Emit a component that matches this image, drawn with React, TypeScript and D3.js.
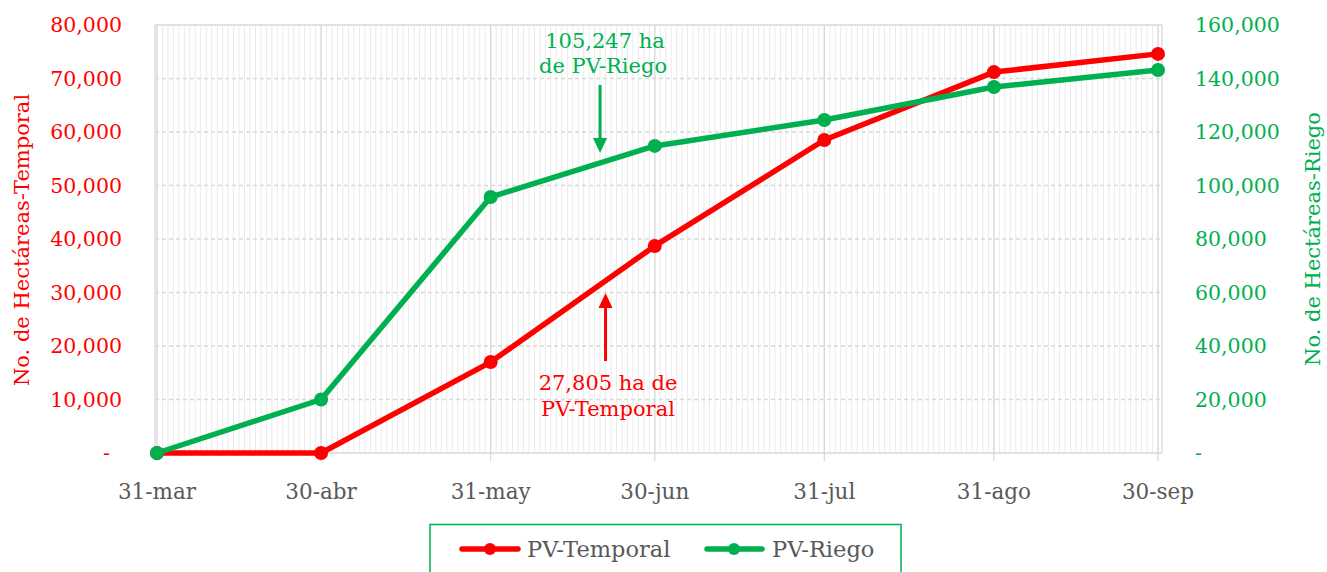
import React from "react";
import * as d3 from "d3";

const dateStrings = ["2023-03-31", "2023-04-30", "2023-05-31", "2023-06-30", "2023-07-31", "2023-08-31", "2023-09-30"];
const dateLabels = ["31-mar", "30-abr", "31-may", "30-jun", "31-jul", "31-ago", "30-sep"];
const temporal = [0, 0, 17000, 38700, 58500, 71200, 74600];
const riego = [0, 20000, 95700, 114800, 124500, 136800, 143200];
const leftTicks = [0, 10000, 20000, 30000, 40000, 50000, 60000, 70000, 80000];
const rightTicks = [0, 20000, 40000, 60000, 80000, 100000, 120000, 140000, 160000];
const seriesNames = ["PV-Temporal", "PV-Riego"];
const annotRiego = ["105,247 ha", "de PV-Riego"];
const annotTemporal = ["27,805 ha de", "PV-Temporal"];

const RED = "#FF0000";
const GREEN = "#00B050";
const GRAY_TEXT = "#595959";
const FONT = "'DejaVu Serif', serif";

export default function App() {
  const parse = d3.timeParse("%Y-%m-%d");
  const dates = dateStrings.map((s) => parse(s) as Date);
  const plotL = 155, plotR = 1162, plotT = 25, plotB = 453;
  const x = d3.scaleTime().domain([dates[0], dates[dates.length - 1]]).range([157, 1158]);
  const yL = d3.scaleLinear().domain([0, 80000]).range([plotB, plotT]);
  const yR = d3.scaleLinear().domain([0, 160000]).range([plotB, plotT]);
  const fmt = d3.format(",");
  const days = d3.timeDay.range(d3.timeDay.offset(dates[0], -1), d3.timeDay.offset(dates[dates.length - 1], 1));

  const lineL = d3.line<number>().x((_, i) => x(dates[i])).y((d) => yL(d));
  const lineR = d3.line<number>().x((_, i) => x(dates[i])).y((d) => yR(d));

  const dJun = parse("2023-06-30") as Date;
  const arrowX1 = x(d3.timeDay.offset(dJun, -10));
  const arrowX2 = x(d3.timeDay.offset(dJun, -9));

  return (
    <svg width={1327} height={572} style={{ position: "absolute", left: 0, top: 0, background: "#fff" }} fontFamily={FONT}>
      {/* minor daily gridlines */}
      {days.map((d, i) => {
        const xx = x(d);
        if (xx < plotL || xx > plotR) return null;
        return <line key={"m" + i} x1={xx} x2={xx} y1={plotT} y2={plotB} stroke="#EBEBEB" strokeWidth={1} />;
      })}
      {/* horizontal dashed gridlines */}
      {leftTicks.map((t, i) =>
        t === 0 || t === 80000 ? null : (
          <line key={"h" + i} x1={plotL} x2={plotR} y1={yL(t)} y2={yL(t)} stroke="#D9D9D9" strokeWidth={1.3} strokeDasharray="4,3" />
        )
      )}
      {/* major month gridlines */}
      {dates.map((d, i) => (
        <line key={"M" + i} x1={x(d)} x2={x(d)} y1={plotT} y2={plotB + 8} stroke="#D9D9D9" strokeWidth={1.3} />
      ))}
      {/* frame */}
      <line x1={plotL} x2={plotR} y1={plotT} y2={plotT} stroke="#D9D9D9" strokeWidth={1.3} />
      <line x1={plotL} x2={plotR} y1={plotB} y2={plotB} stroke="#D9D9D9" strokeWidth={1.3} />
      <line x1={plotL} x2={plotL} y1={plotT} y2={plotB} stroke="#D9D9D9" strokeWidth={1.3} />
      <line x1={plotR} x2={plotR} y1={plotT} y2={plotB} stroke="#D9D9D9" strokeWidth={1.3} />

      {/* left axis labels */}
      {leftTicks.map((t, i) => (
        <text key={"l" + i} x={t === 0 ? 110 : 122} y={yL(t)} dy="0.35em" textAnchor="end" fill={RED} fontSize={20.5}>
          {t === 0 ? "-" : fmt(t)}
        </text>
      ))}
      {/* right axis labels */}
      {rightTicks.map((t, i) => (
        <text key={"r" + i} x={1195} y={yR(t)} dy="0.35em" textAnchor="start" fill={GREEN} fontSize={20.5}>
          {t === 0 ? "-" : fmt(t)}
        </text>
      ))}
      {/* x labels */}
      {dates.map((d, i) => (
        <text key={"x" + i} x={x(d)} y={499} textAnchor="middle" fill={GRAY_TEXT} fontSize={21.5}>
          {dateLabels[i]}
        </text>
      ))}
      {/* axis titles */}
      <text transform={`translate(29,${(plotT + plotB) / 2 + 1}) rotate(-90)`} textAnchor="middle" fill={RED} fontSize={21}>
        No. de Hectáreas-Temporal
      </text>
      <text transform={`translate(1320,${(plotT + plotB) / 2}) rotate(-90)`} textAnchor="middle" fill={GREEN} fontSize={21}>
        No. de Hectáreas-Riego
      </text>

      {/* lines */}
      <path d={lineL(temporal) || ""} fill="none" stroke={RED} strokeWidth={5.5} strokeLinejoin="round" />
      <path d={lineR(riego) || ""} fill="none" stroke={GREEN} strokeWidth={5.5} strokeLinejoin="round" />
      {temporal.map((v, i) => (
        <circle key={"cr" + i} cx={x(dates[i])} cy={yL(v)} r={7} fill={RED} />
      ))}
      {riego.map((v, i) => (
        <circle key={"cg" + i} cx={x(dates[i])} cy={yR(v)} r={7} fill={GREEN} />
      ))}

      {/* annotations */}
      <text x={605} y={48} textAnchor="middle" fill={GREEN} fontSize={21}>{annotRiego[0]}</text>
      <text x={603} y={73} textAnchor="middle" fill={GREEN} fontSize={21}>{annotRiego[1]}</text>
      <line x1={arrowX1} x2={arrowX1} y1={85} y2={140} stroke={GREEN} strokeWidth={3} />
      <path d={`M${arrowX1 - 7},${138} L${arrowX1 + 7},${138} L${arrowX1},${153} Z`} fill={GREEN} />

      <text x={608} y={390} textAnchor="middle" fill={RED} fontSize={21}>{annotTemporal[0]}</text>
      <text x={608} y={416} textAnchor="middle" fill={RED} fontSize={21}>{annotTemporal[1]}</text>
      <line x1={arrowX2} x2={arrowX2} y1={361} y2={305} stroke={RED} strokeWidth={3} />
      <path d={`M${arrowX2 - 7},${308} L${arrowX2 + 7},${308} L${arrowX2},${293} Z`} fill={RED} />

      {/* legend */}
      <rect x={430} y={524.5} width={471} height={60} fill="#fff" stroke={GREEN} strokeWidth={1.5} />
      <line x1={462} x2={518} y1={549} y2={549} stroke={RED} strokeWidth={5.5} strokeLinecap="round" />
      <circle cx={490} cy={549} r={6} fill={RED} />
      <text x={527} y={557} fill={GRAY_TEXT} fontSize={22.5}>{seriesNames[0]}</text>
      <line x1={707} x2={762} y1={549} y2={549} stroke={GREEN} strokeWidth={5.5} strokeLinecap="round" />
      <circle cx={734} cy={549} r={6} fill={GREEN} />
      <text x={772} y={557} fill={GRAY_TEXT} fontSize={22.5}>{seriesNames[1]}</text>
    </svg>
  );
}
